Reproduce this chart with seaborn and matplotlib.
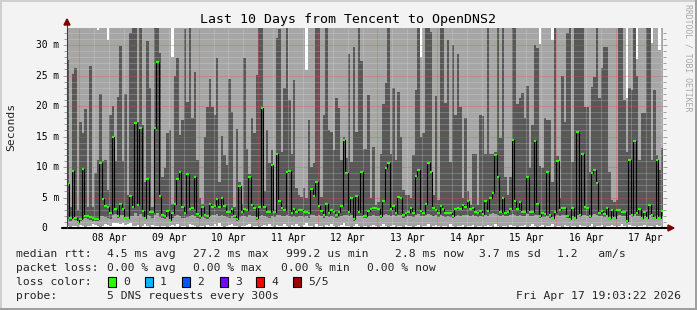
import numpy as np
import matplotlib
matplotlib.use("Agg")
import matplotlib.pyplot as plt
import matplotlib.transforms as mtrans
from matplotlib.patches import Polygon, Rectangle
from matplotlib.lines import Line2D
import seaborn as sns

# ---------------- data (hourly steps from Apr 7 19:00 to Apr 17 19:00) ----------------
median_ms = [
    7.2, 1.7, 9.4, 1.7, 1.0, 1.5, 9.6, 2.0, 2.0, 1.8, 1.6, 1.4, 1.4, 10.6, 4.8, 3.6, 3.4, 2.5, 15.0, 3.1,
    2.0, 3.9, 3.1, 1.6, 1.6, 5.3, 3.5, 17.3, 3.8, 16.4, 2.8, 1.7, 8.1, 2.7, 2.7, 16.4, 27.3, 5.3, 2.1, 2.0,
    2.8, 1.3, 2.5, 4.0, 8.0, 9.2, 3.5, 2.5, 8.9, 3.1, 3.2, 8.4, 2.3, 2.0, 3.5, 2.2, 2.0, 4.0, 3.5, 3.6,
    4.8, 3.5, 5.0, 3.6, 2.7, 2.7, 3.1, 2.0, 1.5, 6.9, 2.7, 3.1, 2.9, 8.4, 3.8, 3.3, 1.6, 3.5, 19.7, 3.5,
    2.7, 2.6, 10.4, 2.7, 12.2, 4.5, 3.2, 2.9, 9.2, 9.4, 2.4, 3.1, 2.7, 3.0, 3.0, 2.7, 2.7, 2.4, 6.4, 5.2,
    7.6, 3.6, 2.8, 2.1, 3.9, 2.4, 3.0, 2.7, 2.1, 2.6, 3.6, 14.4, 9.1, 2.7, 4.9, 1.4, 5.2, 2.7, 9.2, 2.0,
    2.0, 2.8, 3.1, 3.2, 3.3, 3.1, 2.0, 4.5, 9.9, 10.6, 3.1, 3.6, 2.5, 5.1, 4.9, 2.1, 2.4, 2.7, 3.3, 2.5,
    8.6, 9.5, 2.8, 2.5, 4.0, 10.7, 9.2, 3.2, 3.0, 2.4, 3.6, 3.1, 2.4, 2.4, 2.4, 2.0, 3.1, 3.2, 3.1, 3.8,
    3.5, 4.5, 3.1, 3.3, 2.7, 2.4, 2.8, 2.3, 4.5, 2.8, 4.9, 5.7, 12.0, 8.4, 2.7, 4.9, 2.5, 2.7, 3.1, 14.5,
    4.5, 3.1, 4.3, 2.7, 2.7, 8.4, 2.7, 2.7, 14.3, 3.9, 1.9, 2.4, 2.3, 9.2, 2.2, 1.6, 2.7, 11.0, 3.0, 3.3,
    3.3, 1.9, 1.5, 3.3, 1.7, 15.8, 2.2, 12.2, 3.4, 3.2, 2.0, 9.0, 9.5, 7.4, 2.4, 2.8, 2.3, 3.3, 1.7, 3.0,
    1.7, 3.0, 3.0, 2.7, 2.7, 1.1, 11.1, 2.1, 14.3, 2.4, 3.1, 1.6, 2.7, 1.7, 3.7, 2.1, 1.6, 11.1, 1.7, 2.8,
]

# lowest ping (top of the white floor)
smoke_min_ms = [
    0.3, 0.2, 0.4, 0.3, 0.2, 0.5, 0.3, 0.2, 0.4, 0.3, 0.6, 0.5, 0.3, 0.2, 0.4, 0.7, 0.5, 0.3, 0.8, 0.9,
    0.8, 0.6, 0.9, 0.5, 0.7, 0.8, 0.4, 0.3, 0.5, 0.2, 0.4, 0.6, 0.3, 0.2, 0.5, 0.4, 0.3, 0.2, 0.4, 0.3,
    0.2, 0.3, 0.5, 0.4, 0.6, 0.2, 0.3, 0.4, 0.2, 0.7, 0.5, 0.3, 0.2, 0.4, 0.3, 0.2, 0.5, 0.4, 0.3, 0.6,
    0.4, 0.8, 0.3, 0.2, 0.3, 0.5, 0.6, 0.4, 0.3, 0.2, 0.4, 0.3, 0.5, 0.6, 0.2, 0.3, 0.4, 0.2, 0.3, 0.5,
    0.3, 0.6, 0.4, 0.2, 0.5, 0.3, 0.4, 0.7, 0.3, 0.2, 0.5, 0.4, 0.6, 0.3, 0.2, 0.5, 0.8, 0.4, 0.3, 0.2,
    0.6, 0.3, 0.4, 0.2, 0.5, 0.3, 0.7, 0.4, 0.2, 0.3, 0.5, 0.8, 0.4, 0.3, 0.2, 0.4, 0.6, 0.3, 0.2, 0.4,
    0.3, 0.2, 0.4, 0.5, 0.3, 0.2, 0.4, 0.6, 0.3, 0.2, 0.3, 0.5, 0.2, 0.4, 0.3, 0.2, 0.5, 0.3, 0.4, 0.2,
    0.3, 0.5, 0.2, 0.4, 0.3, 0.6, 0.2, 0.3, 0.5, 0.4, 0.2, 0.3, 0.4, 0.2, 0.6, 0.3, 0.2, 0.4, 0.3, 0.5,
    0.2, 0.4, 0.3, 0.5, 0.2, 0.3, 0.4, 0.2, 0.3, 0.5, 0.4, 0.2, 0.6, 0.3, 0.2, 0.4, 0.3, 0.2, 0.5, 0.4,
    0.3, 0.2, 0.4, 0.3, 0.5, 0.2, 0.3, 0.6, 0.4, 0.2, 0.3, 0.5, 0.2, 0.4, 0.3, 0.6, 0.2, 0.3, 0.4, 0.2,
    0.5, 0.3, 0.2, 0.4, 0.3, 0.2, 0.5, 0.3, 0.4, 0.2, 0.3, 0.6, 0.2, 0.4, 0.3, 0.5, 0.2, 0.3, 0.4, 0.5,
    0.3, 0.2, 0.4, 0.6, 0.3, 0.2, 0.5, 0.4, 0.3, 0.2, 0.4, 0.3, 0.5, 0.2, 0.3, 0.4, 0.2, 0.5, 0.3, 0.2,
]

# lower smoke edge (top of the light floor band)
smoke_low_ms = [
    1.4, 1.2, 1.6, 1.3, 0.8, 1.2, 1.5, 1.6, 1.4, 1.3, 1.2, 1.1, 1.2, 1.9, 2.0, 1.8, 1.7, 1.5, 2.2, 2.3,
    1.6, 2.1, 2.2, 1.4, 1.4, 2.0, 1.9, 2.4, 2.0, 2.3, 1.8, 1.4, 2.2, 1.9, 1.7, 2.1, 2.4, 1.8, 1.6, 1.5,
    1.8, 1.1, 1.6, 2.0, 2.1, 1.9, 1.7, 1.6, 1.8, 2.0, 2.1, 1.9, 1.7, 1.5, 1.8, 1.6, 1.5, 2.0, 2.2, 2.1,
    2.3, 2.0, 2.1, 1.9, 1.8, 1.7, 1.9, 1.6, 1.2, 1.8, 1.9, 2.0, 1.8, 2.1, 2.0, 1.9, 1.3, 2.0, 2.2, 1.9,
    1.8, 1.7, 2.0, 1.8, 2.1, 2.2, 2.0, 1.9, 2.1, 2.0, 1.8, 1.9, 1.8, 1.9, 2.0, 1.8, 1.9, 1.7, 2.1, 2.2,
    2.0, 2.2, 1.9, 1.6, 2.0, 1.8, 1.9, 1.8, 1.6, 1.8, 2.0, 2.2, 2.1, 1.9, 2.1, 1.2, 2.0, 1.9, 2.0, 1.6,
    1.6, 1.9, 2.0, 2.1, 2.0, 2.0, 1.6, 2.2, 2.3, 2.2, 2.0, 2.1, 1.9, 2.2, 2.1, 1.7, 1.8, 1.9, 2.0, 1.8,
    2.2, 2.3, 2.0, 1.9, 2.2, 2.3, 2.2, 2.0, 2.1, 1.8, 2.1, 2.0, 1.8, 1.9, 1.8, 1.6, 2.0, 2.1, 2.0, 2.2,
    2.1, 2.2, 2.0, 2.1, 1.9, 1.8, 2.0, 1.8, 2.2, 2.0, 2.3, 2.4, 2.3, 2.2, 2.0, 2.2, 1.9, 2.0, 2.1, 2.3,
    2.2, 2.0, 2.2, 1.9, 2.0, 2.3, 1.9, 2.0, 2.2, 2.1, 1.6, 1.8, 1.8, 2.0, 1.7, 1.4, 2.0, 2.2, 2.0, 2.1,
    2.1, 1.6, 1.3, 2.0, 1.5, 2.1, 1.8, 2.2, 2.1, 2.0, 1.7, 2.2, 2.3, 2.1, 1.9, 2.0, 1.8, 2.1, 1.5, 2.0,
    1.5, 2.0, 2.1, 1.9, 1.9, 0.9, 2.2, 1.8, 2.3, 1.9, 2.0, 1.4, 1.9, 1.5, 2.1, 1.8, 1.4, 2.1, 1.5, 1.9,
]

# upper edge of the dark inner smoke
smoke_high_ms = [
    27.5, 3.5, 25.3, 26.2, 3.0, 17.4, 15.5, 19.5, 3.5, 26.5, 3.5, 9.0, 11.1, 22.0, 11.0, 11.1, 6.2, 18.5, 20.0, 11.0,
    21.5, 29.8, 11.0, 22.0, 5.4, 32.0, 34.0, 34.0, 17.4, 34.0, 16.9, 7.6, 30.6, 23.0, 3.5, 34.0, 34.0, 28.7, 8.4, 9.8,
    15.6, 16.0, 4.0, 25.0, 27.8, 15.2, 17.7, 32.7, 20.7, 34.0, 18.0, 25.6, 11.1, 4.9, 4.0, 15.0, 19.9, 24.5, 19.9, 18.5,
    27.8, 7.6, 15.1, 12.0, 10.4, 24.5, 19.0, 3.5, 16.3, 7.6, 4.0, 27.8, 13.0, 8.8, 18.1, 15.5, 25.1, 34.0, 34.0, 6.0,
    16.0, 10.6, 12.8, 3.0, 31.1, 32.7, 12.5, 22.9, 32.8, 21.0, 12.2, 24.3, 6.5, 5.4, 5.1, 6.5, 5.0, 17.7, 10.0, 10.6,
    32.8, 34.0, 5.1, 18.5, 34.0, 16.0, 15.8, 12.8, 21.3, 19.6, 11.1, 15.0, 11.5, 28.6, 10.9, 29.7, 15.8, 34.0, 27.4, 12.9,
    13.0, 21.8, 4.9, 13.3, 3.8, 4.3, 12.2, 20.4, 23.7, 34.0, 12.2, 22.9, 11.1, 22.3, 15.0, 6.2, 5.4, 5.4, 4.9, 12.0,
    22.6, 34.0, 15.0, 15.5, 34.0, 34.0, 32.2, 5.4, 21.7, 4.6, 34.0, 34.0, 20.5, 30.8, 10.9, 30.0, 18.5, 28.6, 19.9, 4.9,
    18.0, 6.1, 3.8, 12.2, 12.2, 3.8, 18.5, 18.3, 12.2, 34.0, 12.2, 12.2, 12.5, 34.0, 14.7, 34.0, 8.4, 5.4, 8.4, 34.0,
    34.0, 20.4, 21.3, 22.1, 18.0, 23.3, 9.8, 16.9, 30.0, 29.5, 10.1, 9.8, 18.0, 17.7, 17.7, 7.6, 34.0, 11.8, 4.9, 25.0,
    17.4, 31.9, 34.0, 10.9, 34.0, 34.0, 34.0, 34.0, 19.9, 19.9, 9.2, 23.2, 24.8, 34.0, 21.3, 26.2, 29.7, 29.7, 9.2, 4.6,
    4.3, 4.6, 34.0, 34.0, 21.0, 12.5, 22.9, 22.6, 34.0, 25.0, 11.1, 18.8, 18.8, 34.0, 34.0, 11.1, 22.6, 12.0, 9.5, 13.1,
]

# highest ping (top of the outer light smoke; >32.8 is off scale)
smoke_max_ms = [
    40, 40, 40, 40, 40, 40, 40, 40, 40, 40, 40, 40, 32.5, 40, 40, 40, 30.8, 40, 40, 40,
    40, 40, 40, 40, 40, 40, 40, 40, 40, 40, 40, 40, 40, 40, 40, 40, 40, 40, 40, 40,
    40, 40, 28.0, 40, 40, 40, 40, 40, 40, 40, 40, 40, 40, 40, 40, 40, 40, 40, 40, 40,
    40, 40, 40, 40, 40, 40, 40, 40, 40, 40, 40, 40, 40, 40, 40, 40, 40, 40, 40, 40,
    40, 40, 40, 40, 40, 40, 40, 40, 40, 40, 40, 40, 40, 40, 40, 40, 25.9, 40, 40, 40,
    40, 40, 40, 40, 40, 40, 40, 40, 40, 40, 40, 40, 40, 40, 40, 40, 40, 40, 40, 40,
    40, 40, 40, 40, 40, 40, 40, 40, 40, 40, 40, 40, 40, 40, 40, 40, 40, 40, 40, 40,
    40, 40, 28.0, 40, 40, 40, 40, 40, 40, 40, 40, 40, 40, 40, 40, 40, 40, 40, 40, 40,
    40, 40, 40, 40, 40, 40, 40, 40, 40, 40, 40, 40, 40, 40, 40, 40, 40, 40, 40, 40,
    40, 40, 40, 40, 40, 40, 40, 40, 40, 40, 30.2, 40, 40, 40, 40, 30.8, 40, 40, 40, 40,
    40, 40, 40, 40, 40, 40, 40, 40, 40, 40, 40, 40, 40, 40, 40, 40, 40, 40, 40, 40,
    40, 32.8, 40, 40, 40, 21.3, 40, 40, 40, 27.7, 40, 40, 40, 40, 40, 30.3, 40, 40, 29.2, 40,
]

day_labels = ["08 Apr", "09 Apr", "10 Apr", "11 Apr", "12 Apr",
              "13 Apr", "14 Apr", "15 Apr", "16 Apr", "17 Apr"]
y_tick_values = [0, 5, 10, 15, 20, 25, 30]
y_tick_labels = ["0", "5 m", "10 m", "15 m", "20 m", "25 m", "30 m"]

title = "Last 10 Days from Tencent to OpenDNS2"
legend_rtt = [("median rtt:", 16), ("4.5 ms avg", 107), ("27.2 ms max", 193),
              ("999.2 us min", 286), ("2.8 ms now", 395), ("3.7 ms sd", 479), ("1.2   am/s", 557)]
legend_loss = [("packet loss:", 16), ("0.00 % avg", 107), ("0.00 % max", 193),
               ("0.00 % min", 281), ("0.00 % now", 367)]
loss_labels = ["0", "1", "2", "3", "4", "5/5"]
loss_colors = ["#26FF00", "#00B8FF", "#0059FF", "#7E00FF", "#FF0000", "#A10000"]
probe_text = "5 DNS requests every 300s"
stamp_text = "Fri Apr 17 19:03:22 2026"

# ---------------- layout ----------------
W, H = 697, 310
sns.set_theme(style="white")
plt.rcParams['font.family'] = ['DejaVu Sans Mono', 'DejaVu Sans']

fig = plt.figure(figsize=(W / 100, H / 100), dpi=100, facecolor="#F3F3F3")
def fx(px): return px / W
def fy(py): return 1 - py / H

ax = fig.add_axes([fx(67), fy(228), 596 / W, 200 / H])
ax.set_facecolor("white")
n = len(median_ms)
edges = np.arange(n + 1)
ax.set_xlim(0, n)
ax.set_ylim(0, 32.8)

LIGHT = "#A6A6A6"
LOWBAND = "#A3A3A3"
DARK = "#585858"
smin = np.array(smoke_min_ms)
slow = np.array(smoke_low_ms)
shigh = np.array(smoke_high_ms)
smax = np.array(smoke_max_ms)
ax.stairs(slow, edges, baseline=smin, fill=True, color=LOWBAND, lw=0, zorder=1)
ax.stairs(shigh, edges, baseline=slow, fill=True, color=DARK, lw=0, zorder=1)
ax.stairs(smax, edges, baseline=shigh, fill=True, color=LIGHT, lw=0, zorder=1)

# grid (drawn over the smoke)
minor_col = (0.86, 0.86, 0.86, 0.5)
major_col = (1.0, 0.25, 0.25, 0.6)
for v in range(1, 33):
    if v % 5:
        ax.axhline(v, color=minor_col, lw=0.72, ls=(0, (1, 1)), zorder=2)
for v in range(5, 33, 5):
    ax.axhline(v, color=major_col, lw=0.72, ls=(0, (1, 1)), zorder=2)
for h in range(5, n, 6):
    if (h - 5) % 24:
        ax.axvline(h, color=minor_col, lw=0.72, ls=(0, (1, 1)), zorder=2)
    else:
        ax.axvline(h, color=major_col, lw=0.72, ls=(0, (1, 1)), zorder=2)

# median: black step connectors + green level marks
centers = edges[:-1] + 0.5
sns.lineplot(x=centers, y=median_ms, ax=ax, color="black", lw=0.8,
             drawstyle="steps-mid", estimator=None, legend=False, zorder=3)
ax.hlines(median_ms, edges[:-1], edges[1:], colors="#26FF00", lw=1.6, zorder=4)

ax.grid(False)
for s in ax.spines.values():
    s.set_visible(False)
ax.set_xticks([])
ax.set_yticks(y_tick_values)
ax.set_yticks(range(0, 33), minor=True)
ax.tick_params(axis="y", which="both", left=True, right=True, direction="out",
               labelleft=False, color="#909090", width=0.6)
ax.tick_params(axis="y", which="major", length=3)
ax.tick_params(axis="y", which="minor", length=2)
ax.set_xlabel("")
ax.set_ylabel("")

# axes lines and arrows
ax.plot([-2.0, 242.0], [0, 0], color="black", lw=1.5, clip_on=False, zorder=6)
ax.plot([0, 0], [0, 33.6], color="#404040", lw=0.8, clip_on=False, zorder=6)
arrow_col = "#7A0000"
fig.add_artist(Polygon([(fx(668), fy(225)), (fx(674), fy(228)), (fx(668), fy(231))],
                       closed=True, transform=fig.transFigure, color=arrow_col))
fig.add_artist(Polygon([(fx(64), fy(25)), (fx(67), fy(19)), (fx(70), fy(25))],
                       closed=True, transform=fig.transFigure, color=arrow_col))

# tick labels
ytrans = mtrans.blended_transform_factory(fig.transFigure, ax.transData)
for v, lab in zip(y_tick_values, y_tick_labels):
    xr = 59 if lab != "0" else 47
    ax.text(fx(xr), v, lab, transform=ytrans, ha="right", va="center", fontsize=6.9, color="black")
xtrans = mtrans.blended_transform_factory(ax.transData, fig.transFigure)
for k, lab in enumerate(day_labels):
    ax.text(17 + 24 * k, fy(238), lab, transform=xtrans, ha="center", va="center",
            fontsize=6.9, color="black")

# titles / side texts
fig.text(fx(347.5), fy(19), title, ha="center", va="center", fontsize=9.5, color="black")
fig.text(fx(11), fy(127), "Seconds", rotation=90, ha="center", va="center", fontsize=8.2)
fig.text(fx(688), fy(4), "RRDTOOL / TOBI OETIKER", rotation=270, ha="center", va="top",
         fontsize=5.9, color="#A8A8A8")

# legend block
LF = 8.2
for txt, x in legend_rtt:
    fig.text(fx(x), fy(254), txt, ha="left", va="center", fontsize=LF)
for txt, x in legend_loss:
    fig.text(fx(x), fy(268), txt, ha="left", va="center", fontsize=LF)
fig.text(fx(16), fy(282), "loss color:", ha="left", va="center", fontsize=LF)
box_x = [108, 145, 182, 220, 256, 293]
for bx, col, lab in zip(box_x, loss_colors, loss_labels):
    fig.add_artist(Rectangle((fx(bx), fy(287)), 8.4 / W, 10 / H, transform=fig.transFigure,
                             facecolor=col, edgecolor="black", lw=0.8))
    fig.text(fx(bx + 15), fy(282), lab, ha="left", va="center", fontsize=LF)
fig.text(fx(16), fy(296), "probe:", ha="left", va="center", fontsize=LF)
fig.text(fx(107), fy(296), probe_text, ha="left", va="center", fontsize=LF)
fig.text(fx(681), fy(296), stamp_text, ha="right", va="center", fontsize=LF)

# frame shading
fig.add_artist(Line2D([0, 1], [fy(0.7), fy(0.7)], transform=fig.transFigure, color="#CFCFCF", lw=1.4))
fig.add_artist(Line2D([fx(0.7), fx(0.7)], [0, 1], transform=fig.transFigure, color="#CFCFCF", lw=1.4))
fig.add_artist(Line2D([0, 1], [fy(309.2), fy(309.2)], transform=fig.transFigure, color="#9E9E9E", lw=1.4))
fig.add_artist(Line2D([fx(696.2), fx(696.2)], [0, 1], transform=fig.transFigure, color="#9E9E9E", lw=1.4))

fig.savefig("out.png", dpi=100, facecolor=fig.get_facecolor())
